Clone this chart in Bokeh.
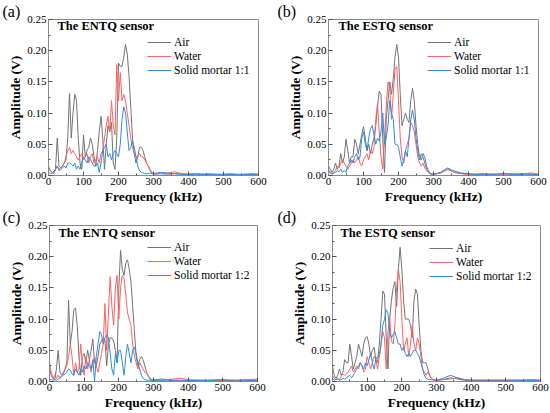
from bokeh.plotting import figure
from bokeh.layouts import column, row
from bokeh.models import Label, Legend, FixedTicker, NumeralTickFormatter, Range1d
from bokeh.embed import file_html
from bokeh.resources import INLINE

# Frequency samples (kHz): 0..300 every 5 kHz, then 320..600 every 20 kHz
FREQ = list(range(0, 301, 5)) + list(range(320, 601, 20))

X_TICKS = [0, 100, 200, 300, 400, 500, 600]
X_MINOR = [0, 50, 100, 150, 200, 250, 300, 350, 400, 450, 500, 550, 600]
Y_TICKS = [0.0, 0.05, 0.10, 0.15, 0.20, 0.25]
Y_MINOR = [0.0, 0.025, 0.05, 0.075, 0.10, 0.125, 0.15, 0.175, 0.20, 0.225, 0.25]

# ---------------- (a) ENTQ, mortar 1:1 ----------------
AIR_A = [0.015, 0.008, 0.005, 0.003, 0.010, 0.060, 0.015, 0.012, 0.015, 0.020,
         0.025, 0.060, 0.132, 0.060, 0.100, 0.130, 0.120, 0.060, 0.020, 0.010,
         0.065, 0.030, 0.040, 0.045, 0.060, 0.050, 0.030, 0.015, 0.040, 0.070,
         0.095, 0.060, 0.010, 0.050, 0.080, 0.070, 0.085, 0.020, 0.010, 0.060,
         0.180, 0.175, 0.175, 0.190, 0.210, 0.195, 0.160, 0.110, 0.060, 0.035,
         0.020, 0.030, 0.045, 0.045, 0.040, 0.030, 0.020, 0.015, 0.008, 0.004,
         0.002,
         0.003, 0.002, 0.003, 0.002, 0.002, 0.003, 0.002, 0.002, 0.001, 0.002,
         0.002, 0.001, 0.002, 0.002, 0.002]
WATER_A = [0.010, 0.008, 0.005, 0.004, 0.010, 0.015, 0.010, 0.012, 0.015, 0.020,
           0.030, 0.040, 0.045, 0.035, 0.040, 0.035, 0.030, 0.025, 0.030, 0.035,
           0.025, 0.030, 0.035, 0.020, 0.030, 0.035, 0.020, 0.025, 0.030, 0.020,
           0.035, 0.040, 0.060, 0.080, 0.095, 0.070, 0.120, 0.080, 0.065, 0.178,
           0.120, 0.165, 0.120, 0.130, 0.120, 0.100, 0.080, 0.060, 0.045, 0.035,
           0.030, 0.030, 0.035, 0.030, 0.030, 0.025, 0.020, 0.015, 0.010, 0.005,
           0.003,
           0.003, 0.004, 0.006, 0.003, 0.002, 0.003, 0.002, 0.003, 0.002, 0.002,
           0.003, 0.002, 0.002, 0.003, 0.002]
MORTAR_A = [0.005, 0.003, 0.004, 0.006, 0.010, 0.015, 0.008, 0.010, 0.012, 0.015,
            0.012, 0.020, 0.020, 0.018, 0.015, 0.020, 0.010, 0.015, 0.010, 0.020,
            0.030, 0.025, 0.020, 0.030, 0.025, 0.020, 0.015, 0.015, 0.020, 0.005,
            0.020, 0.040, 0.045, 0.050, 0.030, 0.035, 0.025, 0.035, 0.040, 0.035,
            0.030, 0.050, 0.090, 0.110, 0.100, 0.070, 0.040, 0.045, 0.055, 0.045,
            0.030, 0.015, 0.008, 0.005, 0.004, 0.003, 0.003, 0.003, 0.004, 0.003,
            0.003,
            0.005, 0.004, 0.003, 0.002, 0.002, 0.001, 0.002, 0.001, 0.002, 0.001,
            0.002, 0.001, 0.001, 0.002, 0.001]

# ---------------- (b) ESTQ, mortar 1:1 ----------------
AIR_B = [0.015, 0.010, 0.005, 0.010, 0.020, 0.010, 0.015, 0.035, 0.020, 0.030,
         0.058, 0.040, 0.020, 0.030, 0.030, 0.058, 0.050, 0.035, 0.050, 0.065,
         0.078, 0.060, 0.040, 0.050, 0.035, 0.050, 0.060, 0.080, 0.110, 0.135,
         0.130, 0.060, 0.005, 0.090, 0.120, 0.150, 0.130, 0.155, 0.190, 0.210,
         0.190, 0.130, 0.080, 0.090, 0.100, 0.090, 0.085, 0.120, 0.140, 0.120,
         0.080, 0.050, 0.030, 0.025, 0.035, 0.030, 0.015, 0.008, 0.004, 0.002,
         0.002,
         0.004, 0.010, 0.005, 0.003, 0.002, 0.002, 0.002, 0.002, 0.002, 0.003,
         0.002, 0.002, 0.003, 0.002, 0.002]
WATER_B = [0.005, 0.004, 0.003, 0.005, 0.008, 0.015, 0.012, 0.020, 0.025, 0.020,
           0.015, 0.010, 0.015, 0.020, 0.025, 0.020, 0.025, 0.030, 0.020, 0.015,
           0.025, 0.030, 0.035, 0.025, 0.040, 0.035, 0.045, 0.090, 0.115, 0.070,
           0.030, 0.010, 0.060, 0.110, 0.150, 0.140, 0.090, 0.130, 0.170, 0.175,
           0.120, 0.060, 0.030, 0.020, 0.040, 0.050, 0.060, 0.085, 0.080, 0.070,
           0.050, 0.030, 0.020, 0.015, 0.020, 0.012, 0.008, 0.005, 0.003, 0.002,
           0.002,
           0.004, 0.010, 0.005, 0.003, 0.002, 0.002, 0.003, 0.002, 0.002, 0.002,
           0.003, 0.002, 0.003, 0.004, 0.002]
MORTAR_B = [0.010, 0.005, 0.002, 0.004, 0.005, 0.008, 0.006, 0.010, 0.005, 0.008,
            0.005, 0.015, 0.020, 0.025, 0.020, 0.030, 0.035, 0.025, 0.030, 0.060,
            0.070, 0.050, 0.040, 0.060, 0.075, 0.080, 0.065, 0.050, 0.060, 0.055,
            0.070, 0.100, 0.050, 0.060, 0.080, 0.120, 0.100, 0.090, 0.050, 0.050,
            0.045, 0.030, 0.015, 0.025, 0.040, 0.030, 0.060, 0.090, 0.105, 0.090,
            0.060, 0.040, 0.025, 0.035, 0.030, 0.020, 0.010, 0.006, 0.003, 0.002,
            0.002,
            0.005, 0.012, 0.007, 0.004, 0.003, 0.002, 0.002, 0.002, 0.002, 0.003,
            0.002, 0.002, 0.002, 0.002, 0.001]

# ---------------- (c) ENTQ, mortar 1:2 ----------------
AIR_C = [0.020, 0.010, 0.005, 0.003, 0.020, 0.050, 0.015, 0.010, 0.012, 0.020,
         0.030, 0.130, 0.060, 0.080, 0.115, 0.118, 0.090, 0.040, 0.010, 0.040,
         0.045, 0.030, 0.050, 0.035, 0.050, 0.068, 0.030, 0.025, 0.040, 0.060,
         0.065, 0.070, 0.065, 0.025, 0.060, 0.070, 0.070, 0.065, 0.050, 0.030,
         0.150, 0.210, 0.180, 0.170, 0.190, 0.195, 0.180, 0.160, 0.120, 0.080,
         0.040, 0.025, 0.035, 0.040, 0.035, 0.025, 0.015, 0.008, 0.004, 0.002,
         0.002,
         0.004, 0.003, 0.002, 0.002, 0.002, 0.002, 0.002, 0.002, 0.002, 0.002,
         0.002, 0.002, 0.002, 0.002, 0.002]
WATER_C = [0.030, 0.015, 0.005, 0.010, 0.005, 0.010, 0.005, 0.010, 0.015, 0.020,
           0.025, 0.040, 0.060, 0.040, 0.010, 0.030, 0.015, 0.020, 0.060, 0.030,
           0.010, 0.040, 0.020, 0.035, 0.015, 0.030, 0.040, 0.025, 0.015, 0.030,
           0.045, 0.060, 0.125, 0.050, 0.110, 0.168, 0.120, 0.090, 0.150, 0.170,
           0.100, 0.150, 0.170, 0.165, 0.140, 0.110, 0.100, 0.090, 0.060, 0.040,
           0.030, 0.020, 0.030, 0.025, 0.020, 0.015, 0.012, 0.010, 0.005, 0.003,
           0.003,
           0.002, 0.003, 0.004, 0.005, 0.003, 0.002, 0.002, 0.002, 0.003, 0.002,
           0.002, 0.002, 0.003, 0.003, 0.004]
MORTAR_C = [0.002, 0.003, 0.002, 0.003, 0.002, 0.004, 0.006, 0.008, 0.010, 0.012,
            0.015, 0.020, 0.018, 0.012, 0.010, 0.020, 0.015, 0.010, 0.020, 0.015,
            0.025, 0.020, 0.030, 0.025, 0.020, 0.035, 0.000, 0.040, 0.060, 0.080,
            0.075, 0.060, 0.070, 0.075, 0.070, 0.045, 0.020, 0.010, 0.045, 0.030,
            0.050, 0.050, 0.030, 0.010, 0.040, 0.060, 0.045, 0.030, 0.050, 0.055,
            0.045, 0.030, 0.020, 0.010, 0.005, 0.003, 0.002, 0.002, 0.002, 0.002,
            0.002,
            0.002, 0.002, 0.001, 0.001, 0.001, 0.002, 0.001, 0.001, 0.002, 0.003,
            0.002, 0.001, 0.001, 0.002, 0.001]

# ---------------- (d) ESTQ, mortar 1:2 ----------------
AIR_D = [0.025, 0.010, 0.005, 0.010, 0.020, 0.010, 0.015, 0.035, 0.030, 0.030,
         0.060, 0.040, 0.020, 0.030, 0.040, 0.060, 0.050, 0.040, 0.060, 0.070,
         0.072, 0.060, 0.040, 0.050, 0.055, 0.035, 0.030, 0.060, 0.100, 0.145,
         0.140, 0.070, 0.020, 0.100, 0.130, 0.150, 0.160, 0.120, 0.180, 0.215,
         0.180, 0.130, 0.100, 0.100, 0.100, 0.090, 0.070, 0.130, 0.148, 0.140,
         0.090, 0.050, 0.030, 0.030, 0.030, 0.020, 0.010, 0.005, 0.003, 0.002,
         0.002,
         0.003, 0.006, 0.004, 0.002, 0.002, 0.002, 0.002, 0.002, 0.002, 0.002,
         0.002, 0.002, 0.002, 0.002, 0.002]
WATER_D = [0.010, 0.005, 0.003, 0.005, 0.003, 0.008, 0.012, 0.010, 0.012, 0.015,
           0.020, 0.025, 0.015, 0.020, 0.025, 0.020, 0.030, 0.025, 0.015, 0.020,
           0.040, 0.030, 0.020, 0.030, 0.040, 0.035, 0.020, 0.040, 0.060, 0.080,
           0.070, 0.020, 0.080, 0.100, 0.065, 0.060, 0.090, 0.150, 0.180, 0.160,
           0.100, 0.050, 0.060, 0.070, 0.040, 0.060, 0.090, 0.060, 0.050, 0.070,
           0.060, 0.040, 0.020, 0.015, 0.010, 0.015, 0.010, 0.005, 0.003, 0.002,
           0.002,
           0.003, 0.004, 0.006, 0.003, 0.002, 0.002, 0.002, 0.002, 0.002, 0.002,
           0.002, 0.002, 0.003, 0.003, 0.002]
MORTAR_D = [0.005, 0.002, 0.003, 0.004, 0.002, 0.003, 0.005, 0.004, 0.006, 0.008,
            0.010, 0.006, 0.010, 0.015, 0.020, 0.025, 0.030, 0.025, 0.020, 0.030,
            0.025, 0.035, 0.045, 0.030, 0.020, 0.035, 0.040, 0.040, 0.060, 0.090,
            0.100, 0.115, 0.110, 0.080, 0.070, 0.075, 0.080, 0.070, 0.060, 0.060,
            0.050, 0.055, 0.045, 0.040, 0.045, 0.040, 0.045, 0.050, 0.050, 0.045,
            0.040, 0.030, 0.020, 0.010, 0.005, 0.004, 0.003, 0.003, 0.003, 0.003,
            0.002,
            0.005, 0.010, 0.006, 0.003, 0.002, 0.002, 0.002, 0.002, 0.002, 0.002,
            0.002, 0.002, 0.001, 0.002, 0.001]

SERIES_NAMES = ["Air", "Water"]
SERIF = "Liberation Serif"
GRAY = "#737373"
RED = "#ff6161"
BLUE = "#2f8be6"
FRAME = "#8a8a8a"


def panel(tag, sensor, mortar_name, air, water, mortar,
          w, h, bl, br, bt, bb, tag_dx, leg_x, leg_top, title_dx, title_top):
    p = figure(width=w, height=h, x_range=Range1d(0, 600), y_range=Range1d(0, 0.25),
               output_backend="svg", toolbar_location=None,
               min_border_left=bl, min_border_right=br,
               min_border_top=bt, min_border_bottom=bb)
    p.grid.visible = False
    p.outline_line_color = FRAME
    p.outline_line_width = 1
    p.background_fill_color = "white"
    p.border_fill_color = "white"

    # panel tag "(a)" etc. drawn as the figure title, shifted to the left edge
    p.title.text = tag
    p.title.align = "left"
    p.title.offset = tag_dx
    p.title.standoff = 0
    p.title.text_line_height = 0.6
    p.title.text_font = SERIF
    p.title.text_font_style = "normal"
    p.title.text_font_size = "16px"
    p.title.text_color = "black"

    r1 = p.line(FREQ, air, line_color=GRAY, line_width=1)
    r2 = p.line(FREQ, water, line_color=RED, line_width=1)
    r3 = p.line(FREQ, mortar, line_color=BLUE, line_width=1)

    p.xaxis.ticker = FixedTicker(ticks=X_TICKS, minor_ticks=X_MINOR)
    p.yaxis.ticker = FixedTicker(ticks=Y_TICKS, minor_ticks=Y_MINOR)
    p.yaxis.formatter = NumeralTickFormatter(format="0.00")
    p.xaxis.axis_label = "Frequency (kHz)"
    p.yaxis.axis_label = "Amplitude (V)"
    for ax in (p.xaxis[0], p.yaxis[0]):
        ax.axis_line_color = FRAME
        ax.major_tick_line_color = "#555555"
        ax.minor_tick_line_color = "#555555"
        ax.major_tick_in = 4
        ax.major_tick_out = 0
        ax.minor_tick_in = 2
        ax.minor_tick_out = 0
        ax.major_label_text_font = SERIF
        ax.major_label_text_font_size = "11px"
        ax.major_label_text_color = "black"
        ax.major_label_standoff = 2
        ax.axis_label_text_font = SERIF
        ax.axis_label_text_font_style = "bold"
        ax.axis_label_text_font_size = "13.5px"
        ax.axis_label_text_color = "black"
        ax.axis_label_standoff = 1

    fh = h - bt - bb
    legend = Legend(items=[(SERIES_NAMES[0], [r1]), (SERIES_NAMES[1], [r2]), (mortar_name, [r3])],
                    location=(leg_x, fh - leg_top - 40))
    legend.border_line_color = None
    legend.background_fill_alpha = 0
    legend.padding = 0
    legend.margin = 0
    legend.spacing = 2
    legend.glyph_width = 24
    legend.glyph_height = 12
    legend.label_height = 12
    legend.label_standoff = 3
    legend.label_text_font = SERIF
    legend.label_text_font_size = "11.5px"
    legend.label_text_color = "black"
    p.add_layout(legend)

    p.add_layout(Label(x=title_dx, y=fh - title_top, x_units="screen", y_units="screen",
                       text=sensor, text_font=SERIF, text_font_style="bold",
                       text_font_size="12.5px", text_baseline="middle", text_color="black"))
    return p


pa = panel("(a)", "The ENTQ sensor", "Solid mortar 1:1", AIR_A, WATER_A, MORTAR_A,
           275, 206, 48, 17, 12, 31, -46, 99, 24, 9, 13)
pb = panel("(b)", "The ESTQ sensor", "Solid mortar 1:1", AIR_B, WATER_B, MORTAR_B,
           274, 206, 53, 11, 12, 31, -51, 99, 24, 10, 13)
pc = panel("(c)", "The ENTQ sensor", "Solid mortar 1:2", AIR_C, WATER_C, MORTAR_C,
           275, 206, 49, 18, 15, 29, -47, 98, 22, 9, 13)
pd = panel("(d)", "The ESTQ sensor", "Solid mortar 1:2", AIR_D, WATER_D, MORTAR_D,
           274, 206, 57, 9, 14, 29, -55, 97, 24, 8, 14)

layout = column(row(pa, pb), row(pc, pd))
open("out.html", "w").write(file_html(layout, INLINE))
